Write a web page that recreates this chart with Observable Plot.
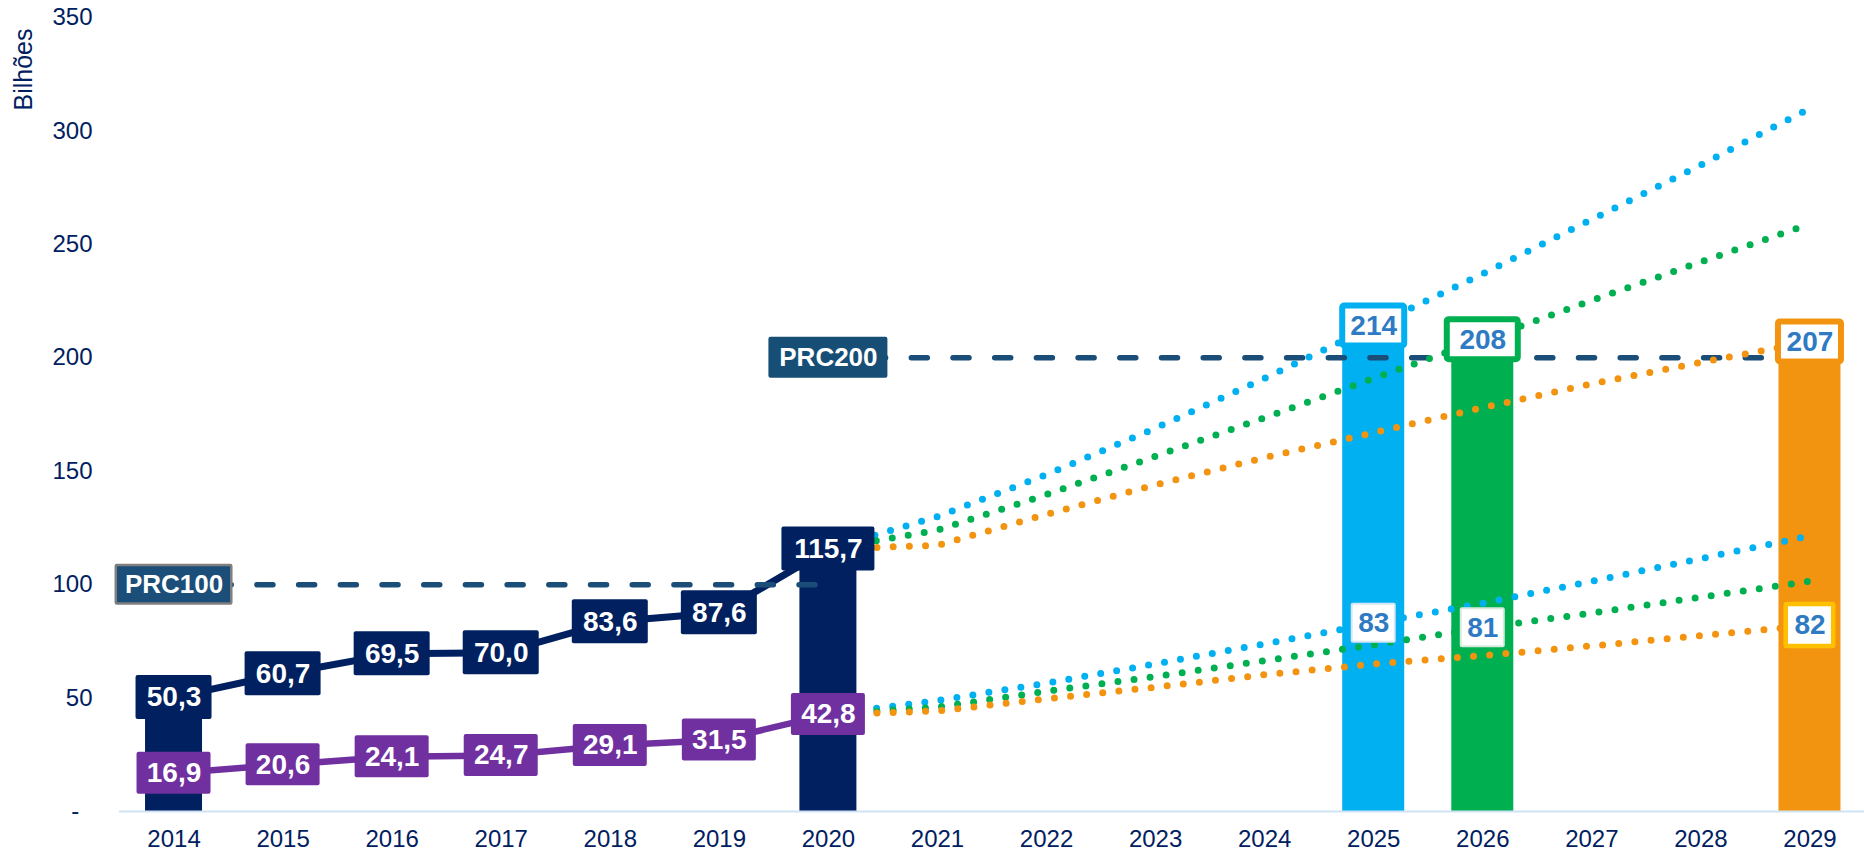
<!DOCTYPE html>
<html>
<head>
<meta charset="utf-8">
<script src="https://cdn.jsdelivr.net/npm/d3@7"></script>
<script src="https://cdn.jsdelivr.net/npm/@observablehq/plot@0.6"></script>
<style>
  html, body { margin: 0; padding: 0; background: #ffffff; }
  #chart { width: 1864px; height: 852px; overflow: hidden; }
</style>
</head>
<body>
<div id="chart"></div>
<script>
// ---------- data ----------
const years = [2014, 2015, 2016, 2017, 2018, 2019, 2020];
const totalValues = [50.3, 60.7, 69.5, 70.0, 83.6, 87.6, 115.7];
const partialValues = [16.9, 20.6, 24.1, 24.7, 29.1, 31.5, 42.8];

const projYears = [2020, 2021, 2022, 2023, 2024, 2025, 2026, 2027, 2028, 2029];
const upperBlue   = [115.7, 130.0, 148.5, 169.0, 191.0, 214.0, 237.0, 261.0, 285.0, 310.0];
const upperGreen  = [115.7, 124.0, 139.7, 156.6, 173.6, 191.0, 208.0, 225.3, 242.3, 259.0];
const upperOrange = [115.7, 117.3, 131.0, 144.0, 156.0, 167.0, 178.0, 188.5, 198.0, 207.0];
const lowerBlue   = [42.8, 48.9, 56.6, 65.1, 73.9, 83.0, 91.8, 101.5, 111.5, 121.5];
const lowerGreen  = [42.8, 46.0, 53.0, 59.5, 66.5, 73.5, 81.0, 87.5, 94.5, 101.5];
const lowerOrange = [42.8, 44.3, 49.7, 54.8, 60.3, 65.0, 68.7, 73.0, 77.5, 82.0];

const barYears  = [2014, 2020, 2025, 2026, 2029];
const barValues = [50.3, 115.7, 214, 208, 207];

const scenarioYears = [2025, 2026, 2029];
const scenarioUpper = [214, 208, 207];
const scenarioLower = [83, 81, 82];

const refLevels = [100, 200];
const refLabels = ["PRC100", "PRC200"];
const refStart  = [2014, 2020];
const refEnd    = [2020, 2029];

const xTicks = [2014, 2015, 2016, 2017, 2018, 2019, 2020, 2021, 2022, 2023, 2024, 2025, 2026, 2027, 2028, 2029];
const yTicks = [0, 50, 100, 150, 200, 250, 300, 350];
const yTitle = "Bilhões";

// ---------- styles ----------
const NAVY = "#002060", PURPLE = "#7030A0", BLUE = "#00B0F0", GREEN = "#00B050", ORANGE = "#F39410";
const scenarioBorders = [BLUE, GREEN, ORANGE];
const lowerBorders = ["#D6E6F4", "#D6EBDD", "#FFC000"];
const PRC = "#1A4D78";
const FONT = "'Liberation Sans', Arial, sans-serif";

const fmt = v => d3.format(".1f")(v).replace(".", ",");

const main = years.map((year, i) => ({year, total: totalValues[i], partial: partialValues[i]}));
const bars = barYears.map((year, i) => ({year, value: barValues[i]}));
const barColorList = [NAVY, NAVY, BLUE, GREEN, ORANGE];
const projSeries = [
  [upperBlue, BLUE], [upperGreen, GREEN], [upperOrange, ORANGE],
  [lowerBlue, BLUE], [lowerGreen, GREEN], [lowerOrange, ORANGE]
].map(([vals, color]) => ({color, data: projYears.map((year, i) => ({year, value: vals[i]}))}));
const refs = refLevels.map((v, i) => ({value: v, label: refLabels[i], x1: refStart[i], x2: refEnd[i]}));
const scen = scenarioYears.map((year, i) => ({year, upper: scenarioUpper[i], lower: scenarioLower[i]}));

function labelBox(data, o) {
  return Plot.rect(data, {
    x1: o.x, x2: o.x, y1: o.y, y2: o.y,
    insetLeft: -o.w / 2, insetRight: -o.w / 2, insetTop: -o.h / 2, insetBottom: -o.h / 2,
    fill: o.fill, stroke: o.stroke, strokeWidth: o.strokeWidth, rx: o.rx ?? 2
  });
}

const marks = [];

// bars
bars.forEach((b, i) => {
  const w = i < 2 ? 57 : 62;
  marks.push(Plot.rect([b], {x1: "year", x2: "year", y1: () => 0, y2: "value",
    insetLeft: -w / 2, insetRight: -w / 2, fill: barColorList[i]}));
});

// baseline
marks.push(Plot.ruleY([0], {stroke: "#CFE3F5", strokeWidth: 2}));

// historical lines
marks.push(Plot.line(main, {x: "year", y: "total", stroke: NAVY, strokeWidth: 7, strokeLinejoin: "round"}));
marks.push(Plot.line(main, {x: "year", y: "partial", stroke: PURPLE, strokeWidth: 6.5, strokeLinejoin: "round"}));

// reference dashed lines
marks.push(Plot.ruleY(refs, {y: "value", x1: "x1", x2: "x2", stroke: PRC, strokeWidth: 5.5,
  strokeDasharray: "16 25.7", strokeLinecap: "round"}));

// projection dotted lines
projSeries.forEach(s => {
  marks.push(Plot.line(s.data, {x: "year", y: "value", stroke: s.color, strokeWidth: 7,
    strokeDasharray: "0 16.2", strokeLinecap: "round", curve: "linear"}));
});

// navy labels
main.forEach(d => {
  const t = fmt(d.total);
  marks.push(labelBox([d], {x: "year", y: "total", w: t.length * 17 + 8, h: 44, fill: NAVY}));
});
marks.push(Plot.text(main, {x: "year", y: "total", text: d => fmt(d.total), fill: "white",
  fontSize: 28, fontWeight: "bold", fontFamily: FONT}));

// purple labels
main.forEach(d => {
  marks.push(labelBox([d], {x: "year", y: "partial", w: 74, h: 42, fill: PURPLE}));
});
marks.push(Plot.text(main, {x: "year", y: "partial", text: d => fmt(d.partial), fill: "white",
  fontSize: 28, fontWeight: "bold", fontFamily: FONT}));

// reference labels
marks.push(labelBox([refs[0]], {x: "x1", y: "value", w: 115.5, h: 38.5, fill: "#1B4F79", stroke: "#7F7F7F", strokeWidth: 2.5, rx: 1}));
marks.push(labelBox([refs[1]], {x: "x1", y: "value", w: 119, h: 41, fill: "#174E76", rx: 2}));
marks.push(Plot.text(refs, {x: "x1", y: "value", text: "label", fill: "white",
  fontSize: 26, fontWeight: "bold", fontFamily: FONT}));

// scenario labels
const upperW = [62, 71, 63];
const lowerW = [43, 43, 47.5];
const lowerH = [38, 38, 42];
const lowerSW = [2, 2, 4.5];
scen.forEach((d, i) => {
  marks.push(labelBox([d], {x: "year", y: "upper", w: upperW[i], h: 40, fill: "white",
    stroke: scenarioBorders[i], strokeWidth: 6, rx: 2}));
  marks.push(labelBox([d], {x: "year", y: "lower", w: lowerW[i], h: lowerH[i], fill: "white",
    stroke: lowerBorders[i], strokeWidth: lowerSW[i], rx: 1}));
});
marks.push(Plot.text(scen, {x: "year", y: "upper", text: d => String(d.upper), fill: "#2E7BC4",
  fontSize: 28, fontWeight: "bold", fontFamily: FONT}));
marks.push(Plot.text(scen, {x: "year", y: "lower", text: d => String(d.lower), fill: "#2E7BC4",
  fontSize: 28, fontWeight: "bold", fontFamily: FONT}));

// y-axis title
marks.push(Plot.text([yTitle], {text: d => d, frameAnchor: "top-left", textAnchor: "middle",
  lineAnchor: "middle", dx: -96, dy: 52, rotate: -90, fontSize: 25, fill: NAVY, fontFamily: FONT}));

const chart = Plot.plot({
  width: 1864,
  height: 852,
  marginLeft: 119,
  marginRight: 0,
  marginTop: 17,
  marginBottom: 41,
  style: {fontFamily: FONT, fontSize: "24px", color: NAVY, background: "white", overflow: "visible"},
  x: {type: "linear", domain: [2013.5, 2029.5], ticks: xTicks, tickFormat: d => String(d),
      tickSize: 0, tickPadding: 18, label: null, line: false},
  y: {type: "linear", domain: [0, 350], ticks: yTicks,
      tickFormat: d => d === 0 ? "-\u00a0\u00a0" : String(d),
      tickSize: 0, tickPadding: 27, label: null, line: false},
  marks
});
document.getElementById("chart").appendChild(chart);
</script>
</body>
</html>
